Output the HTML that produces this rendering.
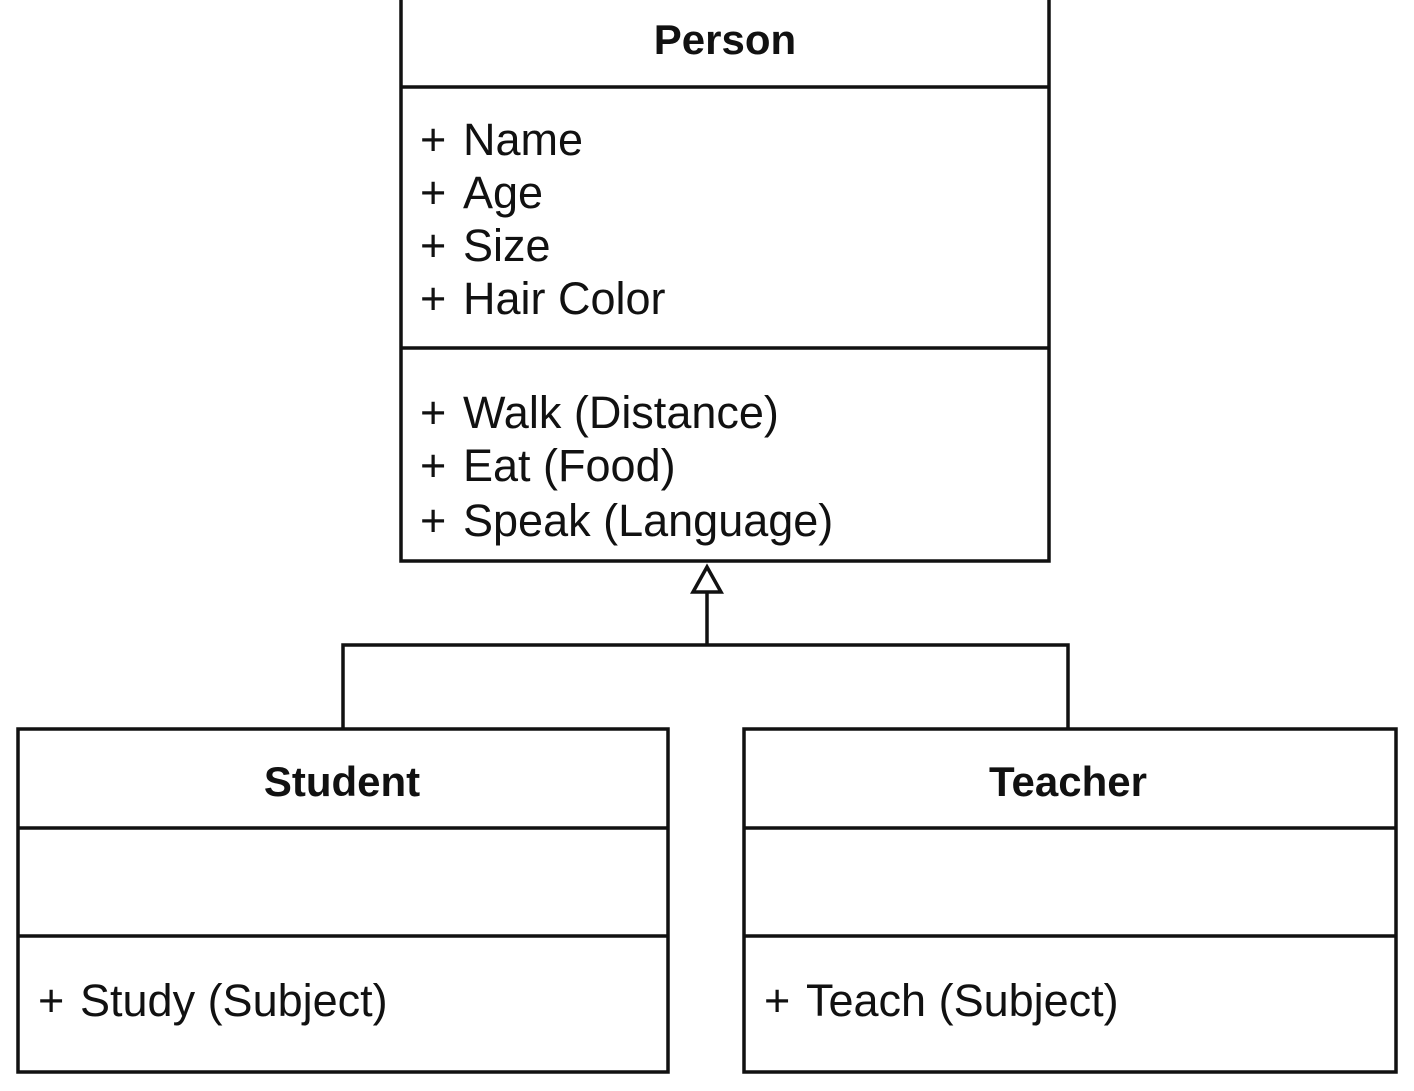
<!DOCTYPE html>
<html><head><style>html,body{margin:0;padding:0;background:#fff;}</style></head>
<body>
<svg width="1414" height="1086" xmlns="http://www.w3.org/2000/svg" font-family="Liberation Sans, Arial, sans-serif" fill="#111">
<g stroke="#111" stroke-width="3.5" fill="none">
<rect x="401" y="-5" width="648" height="566"/>
<line x1="401" y1="87" x2="1049" y2="87"/>
<line x1="401" y1="348" x2="1049" y2="348"/>
<rect x="18" y="729" width="650" height="343"/>
<line x1="18" y1="828" x2="668" y2="828"/>
<line x1="18" y1="936" x2="668" y2="936"/>
<rect x="744" y="729" width="652" height="343"/>
<line x1="744" y1="828" x2="1396" y2="828"/>
<line x1="744" y1="936" x2="1396" y2="936"/>
<polyline points="343,729 343,645 1068,645 1068,729"/>
<line x1="707" y1="645" x2="707" y2="592"/>
<polygon points="707,567 693,592 721,592" fill="#fff"/>
</g>
<g font-size="45">
<text x="725" y="54" font-weight="bold" text-anchor="middle" font-size="42">Person</text>
<text x="420" y="155">+</text><text x="463" y="155">Name</text>
<text x="420" y="208">+</text><text x="463" y="208">Age</text>
<text x="420" y="261">+</text><text x="463" y="261">Size</text>
<text x="420" y="314">+</text><text x="463" y="314">Hair Color</text>
<text x="420" y="428">+</text><text x="463" y="428">Walk (Distance)</text>
<text x="420" y="481">+</text><text x="463" y="481">Eat (Food)</text>
<text x="420" y="536">+</text><text x="463" y="536">Speak (Language)</text>
<text x="342" y="796" font-weight="bold" text-anchor="middle" font-size="42">Student</text>
<text x="1068" y="796" font-weight="bold" text-anchor="middle" font-size="42">Teacher</text>
<text x="38" y="1016">+</text><text x="80" y="1016">Study (Subject)</text>
<text x="764" y="1016">+</text><text x="806" y="1016">Teach (Subject)</text>
</g>
</svg>
</body></html>
